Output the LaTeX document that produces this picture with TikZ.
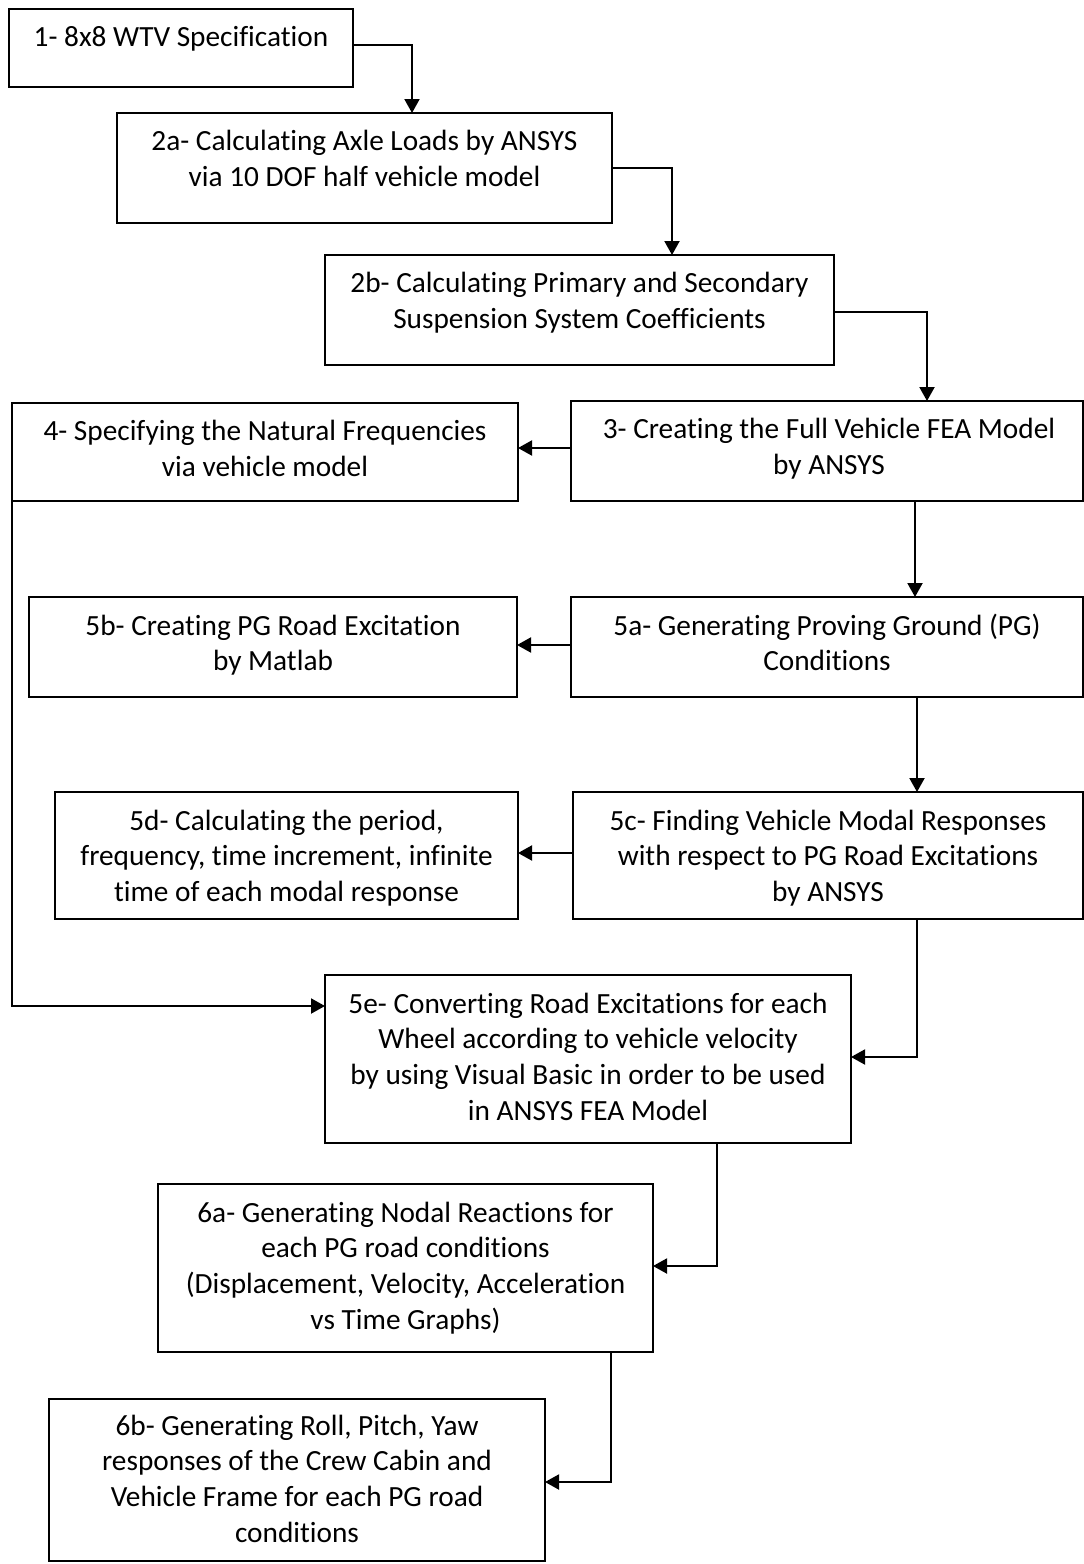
\documentclass[tikz,border=0pt]{standalone}
\usepackage{fontspec}
\setmainfont{Carlito}[Ligatures={NoCommon}]
\usetikzlibrary{arrows.meta,calc}
\begin{document}
\begin{tikzpicture}[x=1pt,y=-1pt,
  box/.style 2 args={draw=black, line width=2pt, rectangle, inner sep=0pt, outer sep=0pt,
    minimum width=#1pt, minimum height=#2pt, anchor=north west},
  txt/.style={anchor=north, align=center, inner sep=0pt, outer sep=0pt,
    font=\fontsize{29.3}{35.7}\selectfont},
  conn/.style={line width=2pt, -{Triangle[length=14pt,width=15pt]}},
  plain/.style={line width=2pt}]
\fill[white] (0,0) rectangle (1084,1564);
\useasboundingbox (0,0) rectangle (1084,1564);

% boxes
\node[box={344}{78}]  (b1)  at (9,9) {};
\node[box={495}{110}] (b2a) at (117,113) {};
\node[box={509}{110}] (b2b) at (325,255) {};
\node[box={512}{100}] (b3)  at (571,401) {};
\node[box={506}{98}]  (b4)  at (12,403) {};
\node[box={512}{100}] (b5a) at (571,597) {};
\node[box={488}{100}] (b5b) at (29,597) {};
\node[box={510}{127}] (b5c) at (573,792) {};
\node[box={463}{127}] (b5d) at (55,792) {};
\node[box={526}{168}] (b5e) at (325,975) {};
\node[box={495}{168}] (b6a) at (158,1184) {};
\node[box={496}{162}] (b6b) at (49,1399) {};

% texts
\node[txt] (t1)  at ([yshift=-13pt]b1.north)  {\strut 1- 8x8 WTV Specification};
\node[txt] (t2a) at ([yshift=-13pt]b2a.north) {\strut 2a- Calculating Axle Loads by ANSYS\\via 10 DOF half vehicle model};
\node[txt] (t2b) at ([yshift=-13pt]b2b.north) {\strut 2b- Calculating Primary and Secondary\\Suspension System Coefficients};
\node[txt] (t3)  at ([yshift=-13pt,xshift=2pt]b3.north)  {\strut 3- Creating the Full Vehicle FEA Model\\by ANSYS};
\node[txt] (t4)  at ([yshift=-13pt]b4.north)  {\strut 4- Specifying the Natural Frequencies\\via vehicle model};
\node[txt] (t5a) at ([yshift=-13pt]b5a.north) {\strut 5a- Generating Proving Ground (PG)\\Conditions};
\node[txt] (t5b) at ([yshift=-13pt]b5b.north) {\strut 5b- Creating PG Road Excitation\\by Matlab};
\node[txt] (t5c) at ([yshift=-13pt]b5c.north) {\strut 5c- Finding Vehicle Modal Responses\\with respect to PG Road Excitations\\by ANSYS};
\node[txt] (t5d) at ([yshift=-13pt]b5d.north) {\strut 5d- Calculating the period,\\frequency, time increment, infinite\\time of each modal response};
\node[txt] (t5e) at ([yshift=-13pt]b5e.north) {\strut 5e- Converting Road Excitations for each\\Wheel according to vehicle velocity\\by using Visual Basic in order to be used\\in ANSYS FEA Model};
\node[txt] (t6a) at ([yshift=-13pt]b6a.north) {\strut 6a- Generating Nodal Reactions for\\each PG road conditions\\(Displacement, Velocity, Acceleration\\vs Time Graphs)};
\node[txt] (t6b) at ([yshift=-11pt]b6b.north) {\strut 6b- Generating Roll, Pitch, Yaw\\responses of the Crew Cabin and\\Vehicle Frame for each PG road\\conditions};

% connectors
\draw[conn] ([yshift=3pt]b1.east) -| ([xshift=47.5pt]b2a.north);
\draw[conn] (b2a.east) -| ([xshift=92.5pt]b2b.north);
\draw[conn] ([yshift=-2pt]b2b.east) -| ([xshift=100pt]b3.north);

\coordinate (a4) at ([yshift=3pt]b3.west);
\draw[conn] (a4) -- (a4 -| b4.east);

\coordinate (a5) at ([xshift=88pt]b3.south);
\draw[conn] (a5) -- (a5 |- b5a.north);

\coordinate (a6) at ([yshift=2pt]b5a.west);
\draw[conn] (a6) -- (a6 -| b5b.east);

\coordinate (a7) at ([xshift=90pt]b5a.south);
\draw[conn] (a7) -- (a7 |- b5c.north);

\coordinate (a8) at ([yshift=2.5pt]b5c.west);
\draw[conn] (a8) -- (a8 -| b5d.east);

\draw[conn] ([xshift=89pt]b5c.south) |- ([yshift=2pt]b5e.east);
\draw[conn] (b4.south west) |- ([yshift=53pt]b5e.west);
\draw[conn] ([xshift=129pt]b5e.south) |- ([yshift=2pt]b6a.east);
\draw[conn] ([xshift=205.5pt]b6a.south) |- ([yshift=-2pt]b6b.east);
\end{tikzpicture}
\end{document}
